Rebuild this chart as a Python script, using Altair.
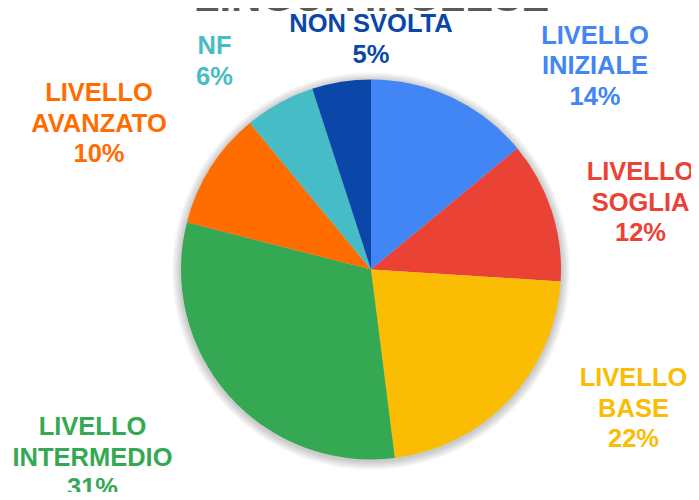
import math
import altair as alt
import pandas as pd

# ---- data ----
title_text = "LINGUA INGLESE"
categories = ["LIVELLO INIZIALE", "LIVELLO SOGLIA", "LIVELLO BASE",
              "LIVELLO INTERMEDIO", "LIVELLO AVANZATO", "NF", "NON SVOLTA"]
percent = [14, 12, 22, 31, 10, 6, 5]
label_lines = [["LIVELLO", "INIZIALE"], ["LIVELLO", "SOGLIA"], ["LIVELLO", "BASE"],
               ["LIVELLO", "INTERMEDIO"], ["LIVELLO", "AVANZATO"], ["NF"], ["NON SVOLTA"]]
colors = ["#4285F4", "#EA4335", "#FBBC04", "#34A853", "#FF6D01", "#46BDC6", "#0B47A8"]

# ---- layout / style (not data) ----
CX, CY = 363, 261.5          # pie centre in chart coordinates
R = 190
# label placement: offset of the first text line from the pie centre (pixels)
label_dx = [224, 269.5, 262.5, -278.5, -272, -156.5, 0]
label_dy = [-234, -97.5, 108.5, 157.5, -176.5, -223.5, -245.5]

df = pd.DataFrame({
    "category": categories,
    "value": percent,
    "order": list(range(len(categories))),
    "label": ["\n".join(l + [f"{p}%"]) for l, p in zip(label_lines, percent)],
    "lx": [CX + d for d in label_dx],
    "ly": [CY + d for d in label_dy],
})

color_scale = alt.Scale(domain=categories, range=colors)

one = pd.DataFrame({"k": [0]})
shadow_layers = [
    alt.Chart(one).mark_arc(outerRadius=r, theta=0, theta2=2 * math.pi,
                            color="#000000", opacity=0.022)
    .encode(x=alt.value(CX), y=alt.value(CY + 1.5))
    for r in range(191, 200)
]

pie = alt.Chart(df).mark_arc(outerRadius=R).encode(
    theta=alt.Theta("value:Q", stack=True),
    order=alt.Order("order:Q"),
    color=alt.Color("category:N", scale=color_scale, legend=None),
    x=alt.value(CX),
    y=alt.value(CY),
)

labels = alt.Chart(df).mark_text(
    font="Liberation Sans", fontSize=25.5, fontWeight="bold",
    lineBreak="\n", lineHeight=30.7, align="center", baseline="middle",
).encode(
    text="label:N",
    x=alt.X("lx:Q", scale=None),
    y=alt.Y("ly:Q", scale=None),
    color=alt.Color("category:N", scale=color_scale, legend=None),
)

title = alt.Chart(pd.DataFrame({"t": [title_text]})).mark_text(
    font="Liberation Sans", fontSize=42, fontWeight="bold", color="#595959",
    align="center", baseline="alphabetic",
).encode(text="t:N", x=alt.value(363.5), y=alt.value(3))

chart = alt.layer(*shadow_layers, pie, labels, title).properties(
    width=683, height=484,
    autosize=alt.AutoSizeParams(type="none"),
    padding=0,
).configure_view(stroke=None)

chart.save("out.html", embed_options={"renderer": "svg", "actions": False})
